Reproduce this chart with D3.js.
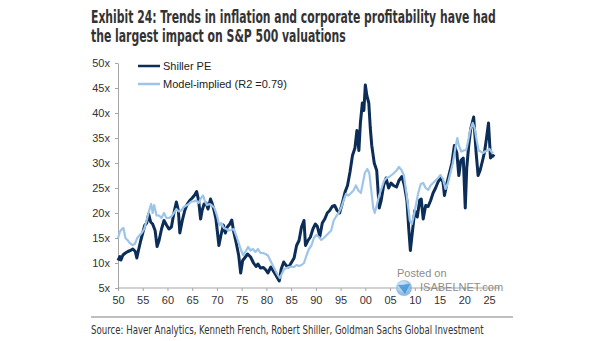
<!DOCTYPE html>
<html>
	<head>
		<meta charset="utf-8">
		<style>
			body{
				margin:0;
				background-color:#ffffff;
			}
			#chart text{
				font-family:"Liberation Sans",Arial,sans-serif;
			}
		</style>
		<script src="https://d3js.org/d3.v7.min.js"></script>
	</head>
	<body>
		<svg id="chart"></svg>
<script>
		// tick labels
		var yTicks=[5,10,15,20,25,30,35,40,45,50];
		var xTicks=[1950,1955,1960,1965,1970,1975,1980,1985,1990,1995,2000,2005,2010,2015,2020,2025];

		// Shiller PE
		var shillerYears=[1950.0,1950.4,1950.6,1951.0,1951.5,1952.0,1952.5,1953.0,1953.5,1953.8,1954.2,1954.6,1955.0,1955.4,1955.8,1956.2,1956.6,1957.0,1957.5,1957.9,
			1958.3,1958.8,1959.3,1959.8,1960.3,1960.8,1961.3,1961.8,1962.2,1962.5,1963.0,1963.5,1964.0,1964.5,1965.0,1965.5,1965.9,1966.3,1966.7,1967.0,
			1967.4,1967.8,1968.2,1968.7,1969.0,1969.4,1969.8,1970.4,1970.8,1971.3,1971.7,1972.1,1972.6,1973.0,1973.4,1973.9,1974.4,1974.8,1975.2,1975.6,
			1976.2,1976.8,1977.4,1977.9,1978.3,1978.8,1979.4,1979.9,1980.3,1980.9,1981.4,1981.9,1982.6,1983.0,1983.5,1984.0,1984.5,1985.0,1985.6,1986.1,
			1986.6,1987.1,1987.6,1987.9,1988.4,1988.9,1989.4,1989.9,1990.3,1990.8,1991.3,1991.8,1992.3,1992.8,1993.3,1993.8,1994.3,1994.8,1995.3,1995.9,
			1996.4,1996.9,1997.4,1997.9,1998.3,1998.7,1999.0,1999.4,1999.7,2000.0,2000.3,2000.7,2001.0,2001.3,2001.8,2002.3,2002.8,2003.2,2003.7,2004.2,
			2004.7,2005.2,2005.7,2006.3,2006.8,2007.4,2007.9,2008.4,2008.8,2009.1,2009.6,2010.0,2010.5,2011.0,2011.3,2011.7,2012.2,2012.7,2013.2,2013.7,
			2014.2,2014.7,2015.2,2015.7,2016.0,2016.5,2017.0,2017.5,2018.0,2018.5,2018.9,2019.3,2019.8,2020.2,2020.5,2020.9,2021.3,2021.9,2022.4,2022.8,
			2023.2,2023.7,2024.1,2024.5,2024.9,2025.3,2025.8,2026.1];
		var shillerPE=[10.5,11.3,10.6,11.6,12.0,12.3,12.5,12.8,12.3,11.0,12.8,14.5,16.0,17.5,18.0,19.8,18.2,17.8,16.5,13.3,
			14.5,16.8,18.5,17.6,16.8,17.2,20.0,22.2,20.5,16.0,18.5,20.5,21.8,22.5,23.0,23.6,24.3,22.5,18.8,20.5,
			21.8,22.0,20.8,22.8,22.0,20.6,18.8,13.5,15.5,17.6,16.0,17.2,17.8,18.6,16.2,14.0,11.5,8.0,10.5,11.0,
			11.8,11.2,10.0,9.3,9.8,9.0,9.1,8.6,8.0,9.2,8.4,7.6,6.4,8.8,10.2,9.5,9.2,10.0,11.0,13.5,
			14.5,17.2,18.5,13.5,14.5,15.2,16.8,17.8,17.3,15.3,18.0,18.8,20.0,20.5,21.3,21.5,20.5,20.0,21.8,24.2,
			25.5,28.2,31.5,33.0,36.5,32.5,38.0,42.0,40.5,45.6,43.5,42.0,37.0,33.5,30.0,28.5,21.0,22.5,25.5,27.0,
			25.0,26.0,25.5,25.2,26.5,27.3,25.5,22.5,16.5,12.5,17.0,20.5,19.2,22.6,22.8,18.8,21.5,21.3,22.5,24.0,
			25.0,26.2,27.0,26.2,23.5,26.0,28.0,30.0,33.5,32.0,27.5,30.5,31.0,21.0,29.0,33.5,36.8,39.2,32.0,27.5,
			28.5,30.5,32.2,35.0,38.0,31.0,31.5,31.3];

		// Model-implied (R2 =0.79)
		var modelYears=[1950.0,1950.4,1950.8,1951.1,1951.5,1951.9,1952.4,1952.9,1953.4,1953.9,1954.3,1954.8,1955.3,1955.8,1956.3,1956.7,1957.0,1957.3,1957.8,1958.3,
			1958.8,1959.3,1959.8,1960.3,1960.8,1961.3,1961.8,1962.3,1962.8,1963.3,1963.8,1964.3,1964.8,1965.3,1965.8,1966.3,1966.8,1967.2,1967.6,1968.0,
			1968.5,1969.0,1969.5,1970.0,1970.5,1970.9,1971.4,1971.9,1972.4,1972.9,1973.4,1973.9,1974.4,1974.9,1975.3,1975.8,1976.3,1976.8,1977.3,1977.8,
			1978.3,1978.8,1979.3,1979.8,1980.3,1980.8,1981.3,1981.8,1982.3,1982.7,1983.1,1983.6,1984.1,1984.6,1985.1,1985.6,1986.1,1986.6,1987.1,1987.6,
			1988.1,1988.6,1989.1,1989.6,1990.1,1990.6,1991.1,1991.6,1992.1,1992.6,1993.1,1993.6,1994.1,1994.6,1995.1,1995.6,1996.1,1996.6,1997.1,1997.6,
			1998.1,1998.6,1999.1,1999.5,1999.9,2000.4,2000.8,2001.2,2001.6,2001.9,2002.3,2002.8,2003.3,2003.8,2004.3,2004.8,2005.3,2005.8,2006.3,2006.8,
			2007.3,2007.8,2008.3,2008.7,2009.0,2009.4,2009.8,2010.2,2010.7,2011.2,2011.7,2012.2,2012.7,2013.2,2013.7,2014.2,2014.7,2015.2,2015.7,2016.2,
			2016.7,2017.2,2017.7,2018.2,2018.6,2018.9,2019.4,2019.9,2020.4,2020.8,2021.2,2021.7,2022.1,2022.5,2022.9,2023.3,2023.8,2024.2,2024.7,2025.1,
			2025.5,2025.9];
		var modelPE=[15.0,16.3,16.8,17.0,15.0,14.6,14.0,13.6,13.8,15.0,15.5,16.0,16.8,18.5,20.5,21.8,20.0,21.6,19.5,19.5,
			19.0,20.0,19.0,19.0,19.3,20.0,20.8,20.3,20.5,21.2,21.5,21.8,22.3,22.3,22.5,22.0,23.0,23.5,22.3,21.6,
			21.8,21.5,21.0,19.5,17.5,18.0,17.0,16.8,16.5,16.6,16.8,15.5,14.0,12.5,11.6,12.3,13.2,12.5,12.8,12.2,
			12.8,12.0,12.0,11.8,11.5,10.5,9.5,8.5,7.6,7.0,7.8,8.8,9.0,9.2,9.3,9.2,9.6,9.4,9.6,10.0,
			11.5,12.8,13.5,15.0,15.6,15.2,14.6,15.0,15.5,16.0,16.5,18.5,19.3,20.0,21.0,22.5,23.8,23.5,24.0,24.5,
			25.5,24.5,24.0,26.0,28.0,28.8,28.0,24.5,21.0,20.0,21.5,23.5,25.0,26.5,27.0,27.2,27.6,28.0,28.5,29.2,
			28.6,27.5,24.0,21.0,18.5,17.8,19.5,21.5,24.0,25.8,26.0,25.0,24.6,25.5,26.0,26.5,27.0,27.6,26.8,24.8,
			26.0,28.0,30.0,33.0,35.0,33.5,32.3,32.5,32.6,34.5,36.6,38.0,37.0,34.6,32.5,32.3,32.0,32.3,32.5,32.8,
			32.2,32.0];

		var width=605,height=341;
		var svg=d3.select("#chart").attr("width",width).attr("height",height);

		var x=d3.scaleLinear().domain([1950,2025]).range([118,489]);
		var y=d3.scaleLinear().domain([5,50]).range([288,63]);

		// squeeze a text horizontally so it spans w pixels
		function fitText(sel,tx,ty,w){
			var len=sel.node().getComputedTextLength();
			sel.attr("transform","translate("+tx+","+ty+") scale("+(w/len)+",1)");
		}

		// title
		var narrow="'Liberation Sans Narrow','DejaVu Sans Condensed',sans-serif";
		var title=svg.append("g")
			.attr("fill","#333333")
			.style("font-weight","bold")
			.style("font-size","17px");
		var t1=title.append("text")
			.style("font-family",narrow)
			.text("Exhibit 24: Trends in inflation and corporate profitability have had");
		var t2=title.append("text")
			.style("font-family",narrow)
			.text("the largest impact on S&P 500 valuations");
		fitText(t1,91,23,405);
		fitText(t2,91,42,255);

		// axes
		var yAxis=svg.append("g")
			.attr("transform","translate(118,0)")
			.call(d3.axisLeft(y).tickValues(yTicks).tickFormat(function(d){return d+"x";}).tickSize(3).tickSizeOuter(0).tickPadding(5));
		var xAxis=svg.append("g")
			.attr("transform","translate(0,288)")
			.call(d3.axisBottom(x).tickValues(xTicks).tickFormat(function(d){return d3.format("02")(d%100);}).tickSize(3).tickSizeOuter(0).tickPadding(5));
		xAxis.select(".domain").remove();
		xAxis.append("line").attr("x1",118).attr("x2",500).attr("stroke","#a6a6a6");
		svg.selectAll(".domain,.tick line").attr("stroke","#a6a6a6");
		svg.selectAll(".tick text").attr("fill","#333333").style("font-size","11px");

		// lines
		var line=d3.line().x(function(d){return x(d[0]);}).y(function(d){return y(d[1]);});
		var shiller=d3.zip(shillerYears,shillerPE);
		var model=d3.zip(modelYears,modelPE);
		svg.append("path").datum(shiller)
			.attr("d",line).attr("fill","none")
			.attr("stroke","#0c2d57").attr("stroke-width",3).attr("stroke-linejoin","round");
		svg.append("path").datum(model)
			.attr("d",line).attr("fill","none")
			.attr("stroke","#9ec5e8").attr("stroke-width",2.2).attr("stroke-linejoin","round");

		// legend
		var legend=[["Shiller PE","#0c2d57",66],["Model-implied (R2 =0.79)","#9ec5e8",84]];
		legend.forEach(function(l){
			svg.append("line").attr("x1",138).attr("x2",160).attr("y1",l[2]).attr("y2",l[2])
				.attr("stroke",l[1]).attr("stroke-width",2.5);
			svg.append("text").attr("x",163).attr("y",l[2]+4)
				.attr("fill","#222222").style("font-size","11px").text(l[0]);
		});

		// watermark
		var wm=svg.append("g").attr("fill","#8c8c8c").style("font-size","11px");
		wm.append("text").attr("x",397).attr("y",277).text("Posted on");
		var grad=svg.append("defs").append("radialGradient").attr("id","globe").attr("cx","40%").attr("cy","35%");
		grad.append("stop").attr("offset","0%").attr("stop-color","#e6f1fb");
		grad.append("stop").attr("offset","100%").attr("stop-color","#7fb2dc");
		svg.append("circle").attr("cx",404).attr("cy",288).attr("r",8).attr("fill","url(#globe)").attr("opacity",0.85);
		svg.append("path").attr("d","M398,285 L410,284 L405,294 Z").attr("fill","#3a8fd6").attr("opacity",0.8);
		wm.append("text").attr("x",420).attr("y",291).text("ISABELNET.com");

		// source
		svg.append("line").attr("x1",91).attr("x2",513).attr("y1",317).attr("y2",317)
			.attr("stroke","#7f7f7f").attr("stroke-width",1);
		var src=svg.append("text")
			.attr("fill","#333333").style("font-size","12px")
			.style("font-family",narrow)
			.text("Source: Haver Analytics, Kenneth French, Robert Shiller, Goldman Sachs Global Investment");
		fitText(src,91,334,393);
</script>
	</body>
</html>
